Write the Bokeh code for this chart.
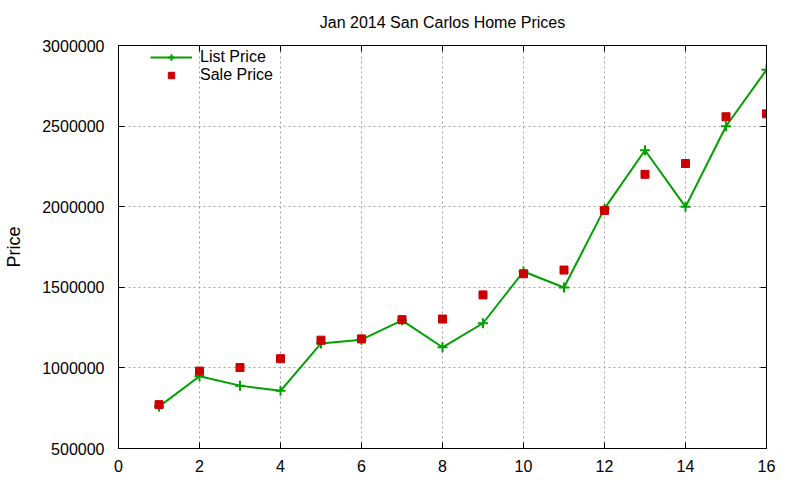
from bokeh.plotting import figure
from bokeh.models import (LinearAxis, SingleIntervalTicker, NumeralTickFormatter,
                          Range1d, Legend, LegendItem, CustomJSTickFormatter)
from bokeh.embed import file_html
from bokeh.resources import INLINE

# ---- data ----
months = [1, 2, 3, 4, 5, 6, 7, 8, 9, 10, 11, 12, 13, 14, 15, 16]
list_price = [760000, 948000, 890000, 858000, 1152000, 1175000, 1295000, 1128000,
              1277000, 1598000, 1499000, 1988000, 2350000, 1999000, 2499000, 2850000]
sale_price = [772000, 980000, 1002000, 1057000, 1172000, 1180000, 1299000, 1303000,
              1453000, 1584000, 1607000, 1977000, 2201000, 2268000, 2558000, 2576000]
title_text = "Jan 2014 San Carlos Home Prices"
y_label = "Price"
series_names = ["List Price", "Sale Price"]

FONT = "Liberation Sans"
GREEN = "#00a000"
RED = "#cc0000"

p = figure(width=790, height=474, output_backend="svg", toolbar_location=None,
           x_range=Range1d(0, 16), y_range=Range1d(500000, 3000000),
           min_border_left=118, min_border_right=24, min_border_top=45,
           min_border_bottom=25, title=title_text)

p.title.align = "center"
p.title.text_font = FONT
p.title.text_font_size = "16px"
p.title.text_font_style = "normal"
p.title.text_color = "black"
p.title.standoff = 22

p.outline_line_color = "black"
p.outline_line_width = 1
p.background_fill_color = "white"
p.border_fill_color = "white"

xt = SingleIntervalTicker(interval=2)
yt = SingleIntervalTicker(interval=500000)

def style_axis(ax, show_labels):
    ax.axis_line_color = "black"
    ax.major_tick_in = 6
    ax.major_tick_out = 0
    ax.minor_tick_line_color = None
    ax.major_tick_line_color = "black"
    ax.major_label_text_font = FONT
    ax.major_label_text_color = "black"
    ax.major_label_text_font_size = "16px"
    if not show_labels:
        ax.formatter = CustomJSTickFormatter(code="return '';")
        ax.major_label_standoff = 0

p.xaxis.ticker = xt
p.yaxis.ticker = yt
p.yaxis.formatter = NumeralTickFormatter(format="0")
style_axis(p.xaxis[0], True)
style_axis(p.yaxis[0], True)
p.xaxis.major_label_standoff = 7
p.yaxis.major_label_standoff = 10
p.yaxis.axis_label = y_label
p.yaxis.axis_label_text_font = FONT
p.yaxis.axis_label_text_font_size = "18px"
p.yaxis.axis_label_text_font_style = "normal"
p.yaxis.axis_label_text_color = "black"
p.yaxis.axis_label_standoff = 15

top_ax = LinearAxis(ticker=SingleIntervalTicker(interval=2))
right_ax = LinearAxis(ticker=SingleIntervalTicker(interval=500000))
style_axis(top_ax, False)
style_axis(right_ax, False)
p.add_layout(top_ax, "above")
p.add_layout(right_ax, "right")

p.xgrid.ticker = xt
p.ygrid.ticker = yt
for g in (p.xgrid[0], p.ygrid[0]):
    g.grid_line_color = "#a0a0a0"
    g.grid_line_dash = "2 3"
    g.grid_line_width = 1

line_r = p.line(months, list_price, line_color=GREEN, line_width=2)
cross_r = p.scatter(months, list_price, marker="cross", size=10,
                    line_color=GREEN, line_width=2)
sq_r = p.scatter(months, sale_price, marker="square", size=8,
                 fill_color=RED, line_color=RED)

legend = Legend(items=[LegendItem(label=series_names[0], renderers=[line_r, cross_r]),
                       LegendItem(label=series_names[1], renderers=[sq_r])],
                location=(32, 364))
legend.background_fill_alpha = 0
legend.border_line_color = None
legend.label_text_font = FONT
legend.label_text_font_size = "16px"
legend.label_text_color = "black"
legend.glyph_width = 42
legend.glyph_height = 16
legend.label_height = 16
legend.spacing = 0
legend.padding = 1
legend.margin = 0
legend.label_standoff = 8
p.add_layout(legend)

open("out.html", "w").write(file_html(p, INLINE))
